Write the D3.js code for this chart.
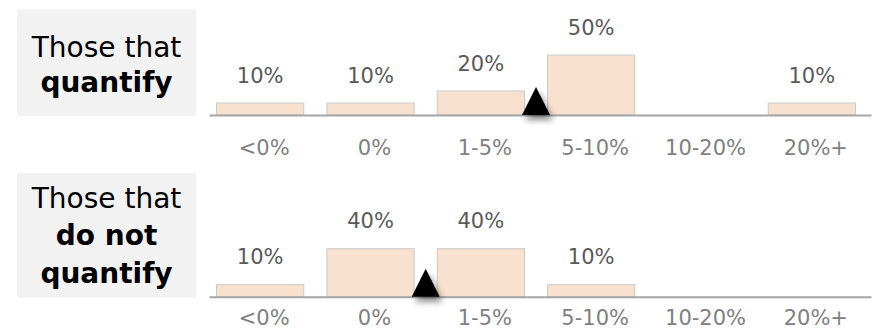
<!DOCTYPE html>
<html>
<head>
<meta charset="utf-8">
<script src="https://cdn.jsdelivr.net/npm/d3@7"></script>
<style>
  html, body { margin: 0; padding: 0; background: #fff; }
  svg { display: block; font-family: "DejaVu Sans", Verdana, sans-serif; }
</style>
</head>
<body>
<svg id="chart" width="894" height="330"></svg>
<script>
// Distribution of expected change, split by respondents who quantify vs. not
const categories = ["<0%", "0%", "1-5%", "5-10%", "10-20%", "20%+"];
const quantifyValues = [10, 10, 20, 50, 0, 10];
const notQuantifyValues = [10, 40, 40, 10, 0, 0];
// Marker sits on the right edge of the named category
const quantifyMarkerAfter = "1-5%";
const notQuantifyMarkerAfter = "0%";
const quantifyTitle = [{ text: "Those that", bold: false }, { text: "quantify", bold: true }];
const notQuantifyTitle = [{ text: "Those that", bold: false }, { text: "do not", bold: true }, { text: "quantify", bold: true }];

const svg = d3.select("#chart");

const defs = svg.append("defs");
defs.append("filter")
  .attr("id", "markerShadow")
  .attr("x", "-50%").attr("y", "-50%").attr("width", "200%").attr("height", "200%")
  .append("feDropShadow")
  .attr("dx", 3).attr("dy", 5).attr("stdDeviation", 3)
  .attr("flood-color", "#000").attr("flood-opacity", 0.45);

// Shared horizontal scales
const xBar = d3.scaleBand().domain(categories).range([205, 867]).paddingInner(0.2).paddingOuter(0.1);
const xAxisScale = d3.scaleBand().domain(categories).range([209, 871]);
const pxPerPct = 1.2;

const panels = [
  { values: quantifyValues, marker: quantifyMarkerAfter, title: quantifyTitle,
    baseline: 115, boxTop: 9, firstLine: 56.5, lineGap: 35.5, tickDy: 40 },
  { values: notQuantifyValues, marker: notQuantifyMarkerAfter, title: notQuantifyTitle,
    baseline: 296.7, boxTop: 173, firstLine: 207.5, lineGap: 37.5, tickDy: 28.5 }
];

panels.forEach(p => {
  const maxV = d3.max(p.values);
  const y = d3.scaleLinear().domain([0, maxV]).range([p.baseline, p.baseline - maxV * pxPerPct]);
  const g = svg.append("g");

  // Title box
  g.append("rect")
    .attr("x", 17).attr("y", p.boxTop)
    .attr("width", 179).attr("height", p.baseline + 1 - p.boxTop)
    .attr("fill", "#f2f2f2");
  g.selectAll("text.title").data(p.title).join("text")
    .attr("class", "title")
    .attr("x", 106.5)
    .attr("y", (d, i) => p.firstLine + i * p.lineGap)
    .attr("text-anchor", "middle")
    .attr("font-size", 28)
    .attr("font-weight", d => d.bold ? "bold" : "normal")
    .attr("fill", "#000")
    .text(d => d.text);

  // Bars (zero-value bars are not drawn)
  const data = categories.map((c, i) => ({ c, v: p.values[i] }));
  g.selectAll("rect.bar").data(data.filter(d => d.v > 0)).join("rect")
    .attr("class", "bar")
    .attr("x", d => xBar(d.c) + 0.5)
    .attr("y", d => y(d.v))
    .attr("width", xBar.bandwidth() - 1)
    .attr("height", d => y(0) - y(d.v))
    .attr("fill", "#f9e1cf")
    .attr("stroke", "#c9c9c9")
    .attr("stroke-width", 1);

  // Value labels
  g.selectAll("text.val").data(data.filter(d => d.v > 0)).join("text")
    .attr("class", "val")
    .attr("x", d => xBar(d.c) + xBar.bandwidth() / 2)
    .attr("y", d => y(d.v) - 20.5)
    .attr("text-anchor", "middle")
    .attr("font-size", 21)
    .attr("fill", "#595959")
    .text(d => d.v + "%");

  // Category axis
  const axis = g.append("g")
    .attr("transform", `translate(0,${p.baseline})`)
    .call(d3.axisBottom(xAxisScale).tickSize(0).tickPadding(0));
  axis.select(".domain").attr("stroke", "#a6a6a6").attr("stroke-width", 2);
  axis.selectAll(".tick text")
    .attr("dy", null)
    .attr("y", p.tickDy)
    .attr("font-family", "DejaVu Sans, Verdana, sans-serif")
    .attr("font-size", 21)
    .attr("fill", "#808080");

  // Marker triangle on the right edge of the marker's category band
  const edge = xBar(p.marker) + xBar.bandwidth() + (xBar.step() - xBar.bandwidth()) / 2;
  g.append("path")
    .attr("d", `M${edge},${p.baseline - 28} L${edge + 14},${p.baseline} L${edge - 14},${p.baseline} Z`)
    .attr("fill", "#000")
    .attr("filter", "url(#markerShadow)");
});
</script>
</body>
</html>
